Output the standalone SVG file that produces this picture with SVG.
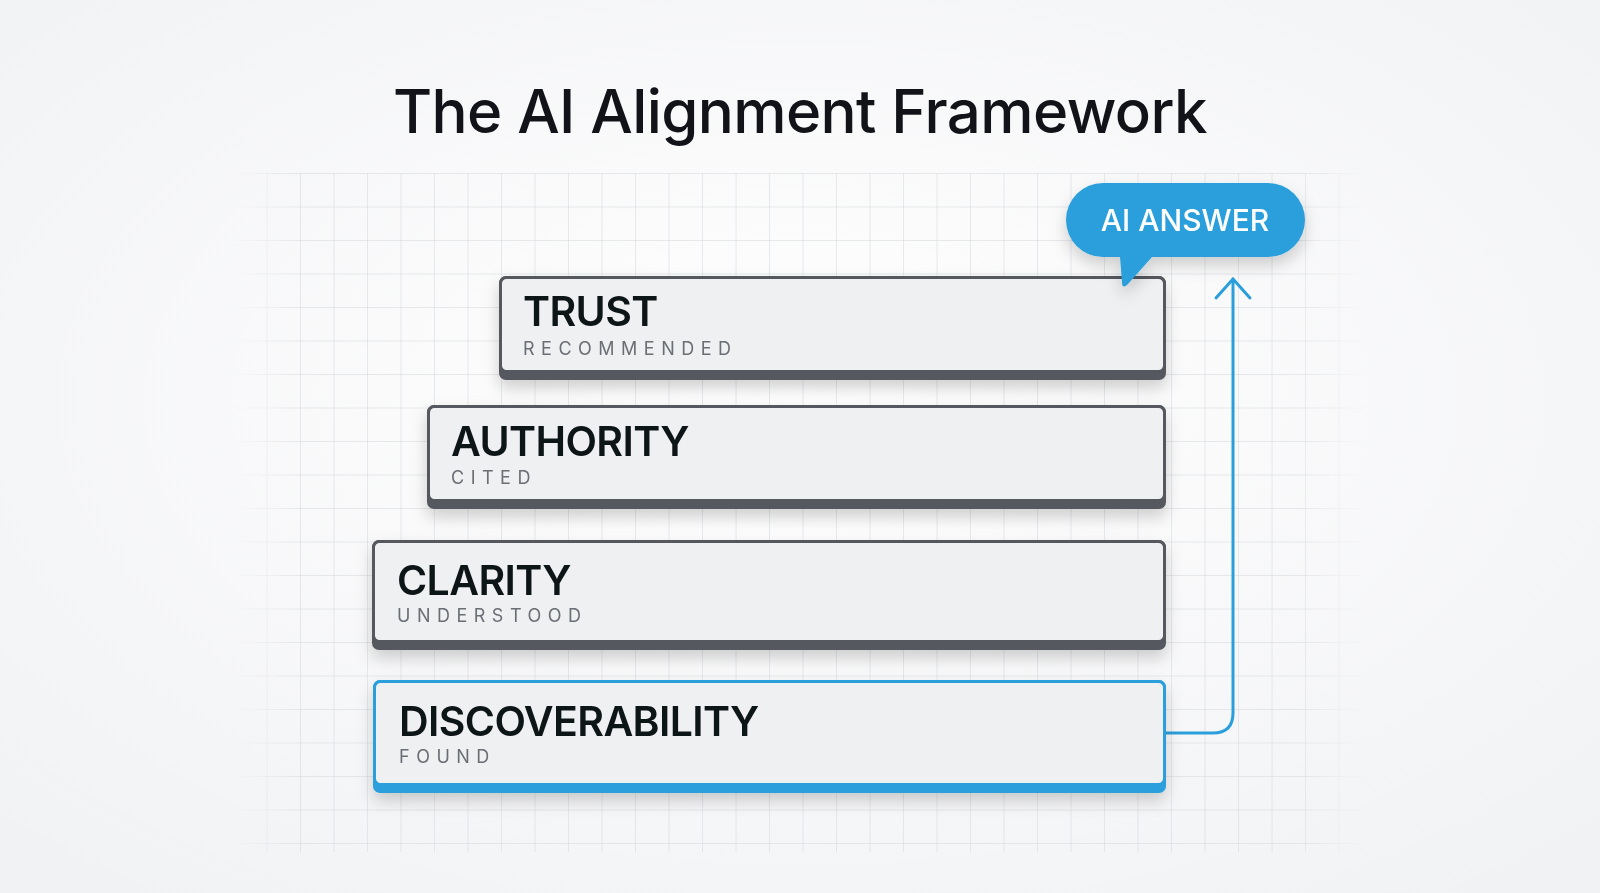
<svg xmlns="http://www.w3.org/2000/svg" width="1600" height="893" viewBox="0 0 1600 893">
<defs>
<pattern id="grid" width="33.5" height="33.5" patternUnits="userSpaceOnUse" x="233" y="173">
<path d="M0 0V33.5M0 0H33.5" fill="none" stroke="#d3d6db" stroke-width="1"/>
</pattern>
<radialGradient id="bg" cx="0.5" cy="0.45" r="0.7"><stop offset="0" stop-color="#ffffff"/><stop offset="1" stop-color="#f1f2f4"/></radialGradient>
<linearGradient id="fade" x1="0" y1="0" x2="1" y2="0"><stop offset="0" stop-color="#fff" stop-opacity="0"/><stop offset="0.06" stop-color="#fff" stop-opacity="1"/><stop offset="0.94" stop-color="#fff" stop-opacity="1"/><stop offset="1" stop-color="#fff" stop-opacity="0"/></linearGradient>
<mask id="m"><rect x="233" y="173" width="1134" height="679" fill="url(#fade)"/></mask>
<filter id="sh" x="-10%" y="-20%" width="120%" height="160%"><feDropShadow dx="0" dy="8" stdDeviation="8" flood-color="#000" flood-opacity="0.18"/></filter>
</defs>
<style>
.box{fill:#eff0f2;stroke:#55585e;stroke-width:3}
.base{fill:#55585e}
.h{font-family:Inter,"Liberation Sans",sans-serif;font-weight:600;font-size:41px;letter-spacing:-0.6px;fill:#111318}
.s{font-family:Inter,"Liberation Sans",sans-serif;font-size:18px;letter-spacing:6.5px;fill:#6b6e74}
</style>
<rect width="1600" height="893" fill="url(#bg)"/>
<rect x="233" y="173" width="1134" height="679" fill="url(#grid)" mask="url(#m)"/>
<text x="800" y="133" text-anchor="middle" font-family="Inter,'Liberation Sans',sans-serif" font-weight="500" font-size="60" letter-spacing="-0.6" fill="#111318">The AI Alignment Framework</text>
<g id="connectors">
<path d="M1166 733H1213Q1233 733 1233 713V279" fill="none" stroke="#2a9fdb" stroke-width="3"/>
<path d="M1216 298L1233 279L1250 298" fill="none" stroke="#2a9fdb" stroke-width="3" stroke-linecap="round"/>
</g>
<g id="trust" filter="url(#sh)">
<rect class="base" x="499" y="276" width="667" height="104" rx="7"/>
<rect class="box" x="500.5" y="277.5" width="664" height="94" rx="6"/>
<text class="h" x="523" y="326">TRUST</text>
<text class="s" x="523" y="355">RECOMMENDED</text>
</g>
<g id="authority" filter="url(#sh)">
<rect class="base" x="427" y="405" width="739" height="104" rx="7"/>
<rect class="box" x="428.5" y="406.5" width="736" height="94" rx="6"/>
<text class="h" x="451" y="456">AUTHORITY</text>
<text class="s" x="451" y="484">CITED</text>
</g>
<g id="clarity" filter="url(#sh)">
<rect class="base" x="372" y="540" width="794" height="110" rx="7"/>
<rect class="box" x="373.5" y="541.5" width="791" height="100" rx="6"/>
<text class="h" x="397" y="595">CLARITY</text>
<text class="s" x="397" y="622">UNDERSTOOD</text>
</g>
<g id="discoverability" filter="url(#sh)">
<rect x="373" y="680" width="793" height="113" rx="7" fill="#2a9fdb"/>
<rect x="374.5" y="681.5" width="790" height="103" rx="6" fill="#eff0f2" stroke="#2a9fdb" stroke-width="3"/>
<text class="h" x="399" y="736">DISCOVERABILITY</text>
<text class="s" x="399" y="763">FOUND</text>
</g>
<g id="ai-answer" filter="url(#sh)">
<path d="M1103 183H1268A37 37 0 0 1 1268 257H1152L1128 284Q1122 290 1122 282L1120 257H1103A37 37 0 0 1 1103 183Z" fill="#2a9fdb"/>
<text x="1185" y="231" text-anchor="middle" font-family="Inter,'Liberation Sans',sans-serif" font-weight="500" font-size="30" fill="#ffffff">AI ANSWER</text>
</g>
</svg>
